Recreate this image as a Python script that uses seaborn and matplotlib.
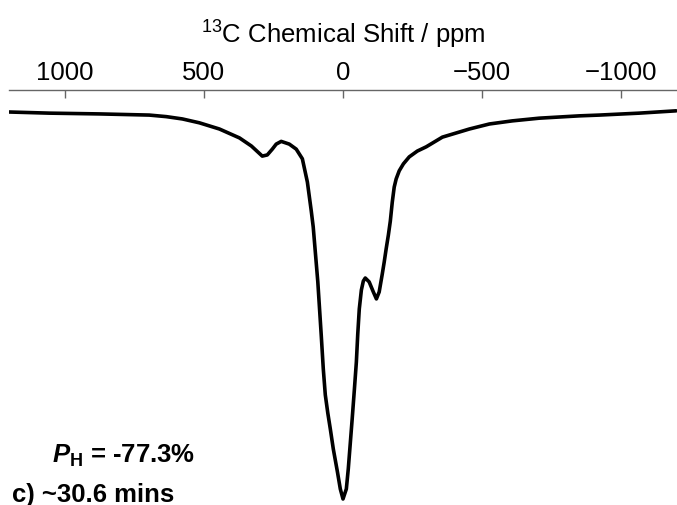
import matplotlib
matplotlib.use("Agg")
import matplotlib.pyplot as plt
import seaborn as sns
import pandas as pd

# 13C NMR spectrum (emissive, hyperpolarised), normalised to the main peak
shift_ppm = [1202, 1055, 875, 696, 635, 577, 516, 444, 372, 329, 290, 272,
             254, 240, 222, 193, 168, 146, 128, 114, 107, 90.5, 78, 70.8,
             63.6, 54.6, 45.6, 34.8, 20, 9.7, 0, -12, -19, -33, -41, -48,
             -53, -58.5, -66, -73, -80, -94, -109, -120, -130, -141, -148,
             -155, -163, -170, -177, -184, -191, -202, -217, -238, -267,
             -299, -357, -454, -526, -608, -705, -849, -921, -1064, -1197]
intensity = [0.000, -0.003, -0.005, -0.008, -0.012, -0.018, -0.028, -0.044,
             -0.067, -0.088, -0.114, -0.111, -0.096, -0.083, -0.076, -0.083,
             -0.096, -0.121, -0.181, -0.256, -0.297, -0.439, -0.579, -0.664,
             -0.731, -0.778, -0.819, -0.871, -0.930, -0.974, -1.000, -0.974,
             -0.922, -0.793, -0.716, -0.646, -0.574, -0.509, -0.460, -0.437,
             -0.429, -0.439, -0.465, -0.483, -0.465, -0.419, -0.388, -0.354,
             -0.318, -0.282, -0.233, -0.194, -0.173, -0.152, -0.134, -0.116,
             -0.101, -0.090, -0.065, -0.044, -0.031, -0.023, -0.016, -0.010,
             -0.008, -0.003, 0.003]

tick_values = [1000, 500, 0, -500, -1000]
tick_labels = ["1000", "500", "0", "\u2212500", "\u22121000"]

sns.set_style("white")
plt.rcParams["font.family"] = ["Liberation Sans", "DejaVu Sans"]
plt.rcParams["text.color"] = "black"
plt.rcParams["xtick.color"] = "black"
plt.rcParams["axes.labelcolor"] = "black"
plt.rcParams["mathtext.fontset"] = "custom"
plt.rcParams["mathtext.rm"] = "Liberation Sans"
plt.rcParams["mathtext.it"] = "Liberation Sans:italic:bold"
plt.rcParams["mathtext.bf"] = "Liberation Sans:bold"

W, H = 677, 506
FS = 18.5
fig = plt.figure(figsize=(W / 100, H / 100), dpi=100)
ax = fig.add_axes([9 / W, 0.0, 1 - 9 / W, 1 - 91 / H])

df = pd.DataFrame({"shift": shift_ppm, "signal": intensity})
sns.lineplot(data=df, x="shift", y="signal", sort=False, estimator=None,
             color="black", linewidth=2.6, ax=ax)

ax.set_xlim(1200, -1200)
ax.set_ylim(-1.0155, 0.0568)

for side in ("left", "right", "bottom"):
    ax.spines[side].set_visible(False)
ax.spines["top"].set_visible(True)
ax.spines["top"].set_color("#666666")
ax.spines["top"].set_linewidth(1.0)

ax.xaxis.set_ticks_position("top")
ax.xaxis.set_label_position("top")
ax.set_xticks(tick_values)
ax.set_xticklabels(tick_labels, fontsize=FS)
ax.tick_params(axis="x", direction="in", length=6, width=1.0,
               color="#666666", labelcolor="black", pad=4)
ax.set_yticks([])
ax.set_ylabel("")
ax.set_xlabel(r"$^{13}$C Chemical Shift / ppm", fontsize=FS, labelpad=13,
              color="black")

fig.text(52 / W, 1 - 463 / H, r"$P_\mathbf{H}$ = -77.3%", fontsize=FS,
         fontweight="bold", ha="left", va="baseline", color="black")
fig.text(12 / W, 1 - 502 / H, "c) ~30.6 mins", fontsize=FS,
         fontweight="bold", ha="left", va="baseline", color="black")

fig.savefig("out.png", dpi=100)
